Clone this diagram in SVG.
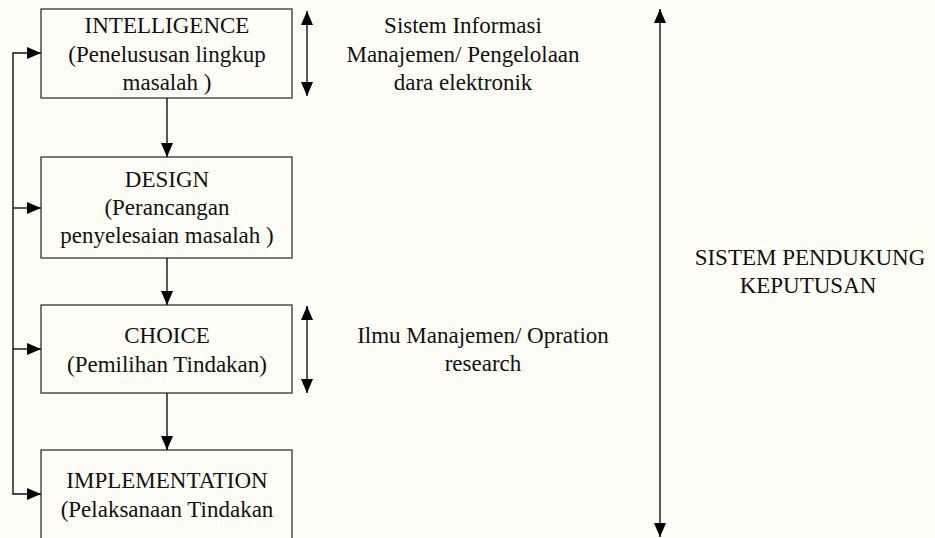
<svg xmlns="http://www.w3.org/2000/svg" width="935" height="538" viewBox="0 0 935 538">
<defs>
<marker id="ah" markerUnits="userSpaceOnUse" markerWidth="16" markerHeight="14" refX="14" refY="6" orient="auto-start-reverse" style="overflow:visible">
<path d="M0,0 L14,6 L0,12 Z" fill="#000"/>
</marker>
</defs>
<style>
.box{fill:none;stroke:#333;stroke-width:1.3}
.ln{fill:none;stroke:#111;stroke-width:1.4}
text{font-family:"Liberation Serif","Times New Roman",serif;font-size:23px;fill:#111;text-anchor:middle}
</style>
<rect x="0" y="0" width="935" height="538" fill="#fdfdf6"/>
<g id="intelligence">
<rect class="box" x="41" y="9" width="251" height="89"/>
<text x="167" y="33">INTELLIGENCE</text>
<text x="167" y="62">(Penelususan lingkup</text>
<text x="167" y="90">masalah )</text>
</g>
<g id="design">
<rect class="box" x="41" y="157" width="251" height="101"/>
<text x="167" y="187">DESIGN</text>
<text x="167" y="215">(Perancangan</text>
<text x="167" y="243">penyelesaian masalah )</text>
</g>
<g id="choice">
<rect class="box" x="41" y="305" width="251" height="88"/>
<text x="167" y="343">CHOICE</text>
<text x="167" y="372">(Pemilihan Tindakan)</text>
</g>
<g id="implementation">
<rect class="box" x="41" y="450" width="251" height="100"/>
<text x="167" y="488">IMPLEMENTATION</text>
<text x="167" y="517">(Pelaksanaan Tindakan</text>
</g>
<g id="sim">
<text x="463" y="33">Sistem Informasi</text>
<text x="463" y="62">Manajemen/ Pengelolaan</text>
<text x="463" y="90">dara elektronik</text>
</g>
<g id="ilmu">
<text x="483" y="343">Ilmu Manajemen/ Opration</text>
<text x="483" y="371">research</text>
</g>
<g id="spk">
<text x="810" y="265">SISTEM PENDUKUNG</text>
<text x="808" y="293">KEPUTUSAN</text>
</g>
<g id="connectors">
<line class="ln" x1="167" y1="98" x2="167" y2="157" marker-end="url(#ah)"/>
<line class="ln" x1="167" y1="258" x2="167" y2="305" marker-end="url(#ah)"/>
<line class="ln" x1="167" y1="393" x2="167" y2="450" marker-end="url(#ah)"/>
<polyline class="ln" points="41,53 13,53 13,494 41,494" marker-start="url(#ah)" marker-end="url(#ah)"/>
<line class="ln" x1="13" y1="208" x2="41" y2="208" marker-end="url(#ah)"/>
<line class="ln" x1="13" y1="349" x2="41" y2="349" marker-end="url(#ah)"/>
<line class="ln" x1="307" y1="11" x2="307" y2="96" marker-start="url(#ah)" marker-end="url(#ah)"/>
<line class="ln" x1="307" y1="306" x2="307" y2="393" marker-start="url(#ah)" marker-end="url(#ah)"/>
<line class="ln" x1="660" y1="9" x2="660" y2="537" marker-start="url(#ah)" marker-end="url(#ah)"/>
</g>
</svg>
